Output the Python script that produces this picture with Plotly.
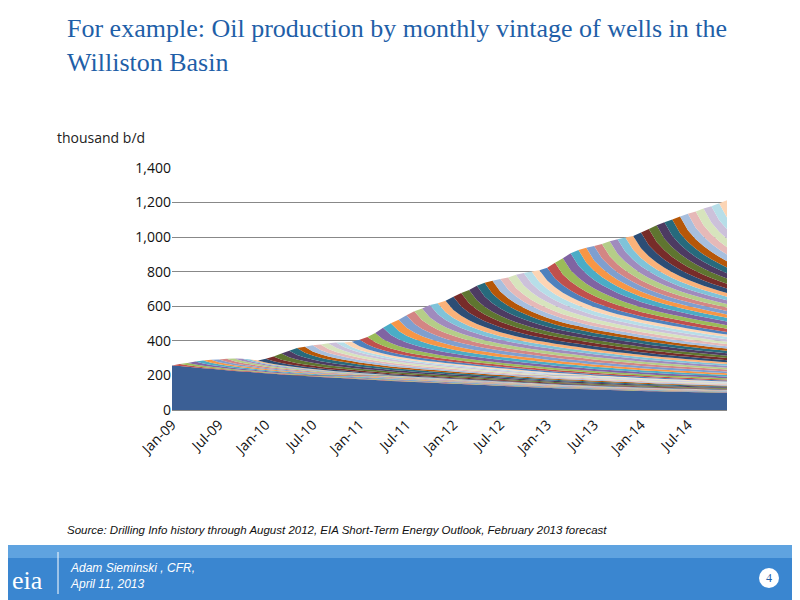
import plotly.graph_objects as go

months = [f"{m}-{y:02d}" for y in range(9, 15) for m in
          ["Jan","Feb","Mar","Apr","May","Jun","Jul","Aug","Sep","Oct","Nov","Dec"]]
tick_labels = ["Jan-09","Jul-09","Jan-10","Jul-10","Jan-11","Jul-11","Jan-12","Jul-12",
               "Jan-13","Jul-13","Jan-14","Jul-14"]

# legacy production (wells before Jan-09), thousand b/d
legacy = [258,254,250,246,242,238,234,230,226,223,220,216,
          212,209,206,203,200,197,194,191,188,186,184,181,
          178,176,174,171,168,166,164,162,160,158,156,154,
          152,150,148,146,144,142,140,138,136,134,132,130,
          128,126,124,123,122,120,118,117,116,114,113,112,
          110,109,108,107,106,105,104,103,102,101,100,99]

# initial month production of each new monthly vintage (Jan-09 .. Dec-14)
vintage_ip = [0,12,14,18,18,17,16,18,17,12,9,7,
              22,28,36,38,40,34,36,32,34,30,26,30,
              38,44,54,66,68,66,72,72,68,72,64,66,
              76,78,76,84,80,74,72,70,76,72,70,68,
              74,90,94,98,92,86,84,82,86,84,82,80,
              92,94,96,95,94,96,95,94,96,95,98,100]

# fraction of initial rate remaining by age in months
decline = [1.00,0.70,0.58,0.50,0.45,0.41,0.38,0.35,0.33,0.31,0.29,0.28,
           0.27,0.26,0.25,0.245,0.24,0.235,0.23,0.225,0.22,0.215,0.21,0.205,
           0.20,0.196,0.192,0.188,0.184,0.18,0.177,0.174,0.171,0.168,0.165,0.162,
           0.16,0.157,0.155,0.152,0.15,0.148,0.146,0.144,0.142,0.14,0.138,0.136,
           0.134,0.132,0.131,0.129,0.128,0.126,0.125,0.123,0.122,0.12,0.119,0.118,
           0.116,0.115,0.114,0.113,0.112,0.111,0.11,0.109,0.108,0.107,0.106,0.105]

palette = ["#4F81BD","#C0504D","#9BBB59","#8064A2","#4BACC6","#F79646",
           "#7F9FCF","#D38684","#B5CD88","#A08BBD","#7FC3D9","#FAB27A",
           "#2C4D75","#772C2A","#5F7530","#4D3B62","#276A7C","#B65708",
           "#A7BFDE","#E6B9B8","#D7E4BD","#CCC1DA","#B7DEE8","#FCD5B5"]

fig = go.Figure()
fig.add_trace(go.Scatter(x=months, y=legacy, stackgroup="a", mode="none",
                         fillcolor="#3B5F95", hoverinfo="skip"))
for v in range(1, len(months)):
    ys = [0 if t < v else vintage_ip[v] * decline[t - v] for t in range(len(months))]
    fig.add_trace(go.Scatter(x=months, y=ys, stackgroup="a", mode="none",
                             fillcolor=palette[v % len(palette)], hoverinfo="skip"))

OFF = 8
L, T, R, B = 172 - OFF, 168 - OFF, 727 - OFF, 410 - OFF
def px(xp): return (xp - OFF - L) / (R - L)
def py(yp): return (B - (yp - OFF)) / (B - T)

ann = [
    dict(x=px(65), y=py(45), text="For example: Oil production by monthly vintage of wells in the<br>Williston Basin",
         font=dict(family="Liberation Serif", size=26, color="#1F5FA8"), align="left"),
    dict(x=px(55), y=py(137), text="thousand b/d", font=dict(family="Open Sans", size=14, color="#222")),
    dict(x=px(65), y=py(530), text="<i>Source: Drilling Info history through August 2012, EIA Short-Term Energy Outlook, February 2013 forecast</i>",
         font=dict(family="Liberation Sans", size=11.5, color="#111")),
    dict(x=px(68), y=py(576), text="<i>Adam Sieminski , CFR,<br>April 11, 2013</i>",
         font=dict(family="Liberation Sans", size=12, color="white"), align="left"),
    dict(x=px(10), y=py(580), text="eia", font=dict(family="Liberation Serif", size=26, color="white")),
    dict(x=px(769), y=py(578), text="4", xanchor="center", font=dict(family="Liberation Serif", size=12, color="#1F5FA8")),
]
annotations = [dict(a, xref="paper", yref="paper", showarrow=False,
                    xanchor=a.get("xanchor", "left"), yanchor="middle") for a in ann]

shapes = [
    dict(type="rect", xref="paper", yref="paper", x0=px(0), x1=px(810), y0=py(-10), y1=py(5),
         fillcolor="#2A6FBA", line_width=0),
    dict(type="rect", xref="paper", yref="paper", x0=px(0), x1=px(810), y0=py(545), y1=py(610),
         fillcolor="#3A86D0", line_width=0, layer="below"),
    dict(type="rect", xref="paper", yref="paper", x0=px(0), x1=px(810), y0=py(545), y1=py(558),
         fillcolor="#5FA3E0", line_width=0, layer="below"),
    dict(type="line", xref="paper", yref="paper", x0=px(58), x1=px(58), y0=py(552), y1=py(594),
         line=dict(color="white", width=1)),
    dict(type="circle", xref="paper", yref="paper", x0=px(759), x1=px(779), y0=py(568), y1=py(588),
         fillcolor="white", line_width=0),
]

fig.update_layout(
    width=800, height=600, paper_bgcolor="white", plot_bgcolor="white",
    margin=dict(l=L, r=800 - R, t=T, b=600 - B), showlegend=False,
    annotations=annotations, shapes=shapes,
    xaxis=dict(tickmode="array", tickvals=tick_labels, ticktext=tick_labels, tickangle=-45,
               showgrid=False, showline=True, linecolor="#888", ticks="",
               range=[0, len(months) - 1],
               tickfont=dict(family="Open Sans", size=14, color="#111")),
    yaxis=dict(range=[0, 1400], dtick=200, tickformat=",", showgrid=True, gridcolor="#888",
               zeroline=False, ticks="", tickfont=dict(family="Open Sans", size=14, color="#111")),
)
fig.write_html("out.html")
